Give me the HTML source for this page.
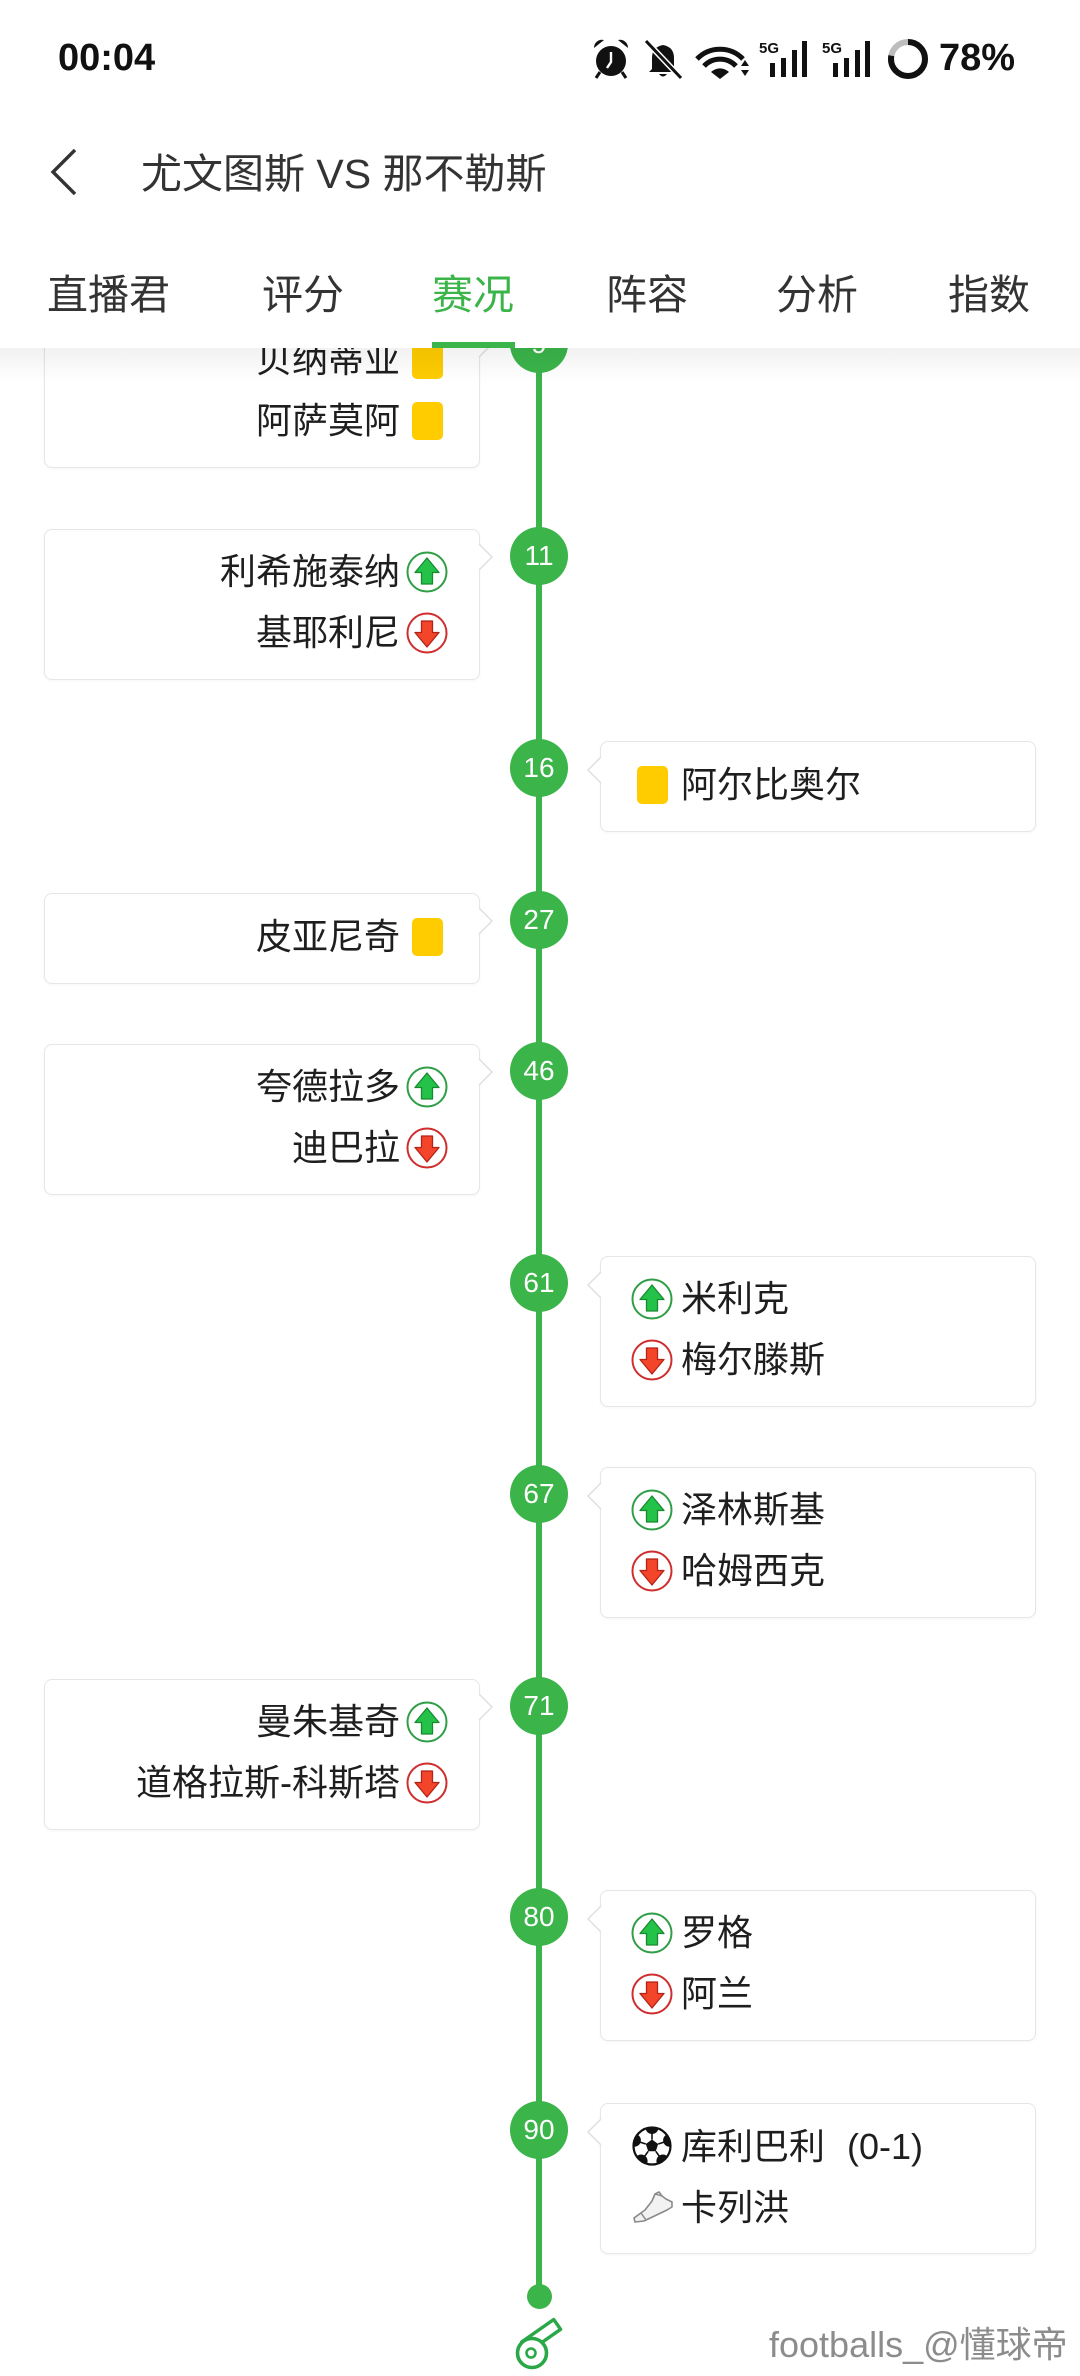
<!DOCTYPE html>
<html><head><meta charset="utf-8"><style>
*{box-sizing:border-box;margin:0;padding:0}
html,body{width:1080px;height:2376px;overflow:hidden;background:#fff}
body{position:relative;font-family:"Liberation Sans","Noto Sans CJK SC",sans-serif;color:#222}
.a{position:absolute}
.card{position:absolute;background:#fff;border:1.5px solid #e6e6e6;border-radius:8px;box-shadow:0 1px 3px rgba(0,0,0,.04)}
.L{left:44px;width:436px}
.R{left:600px;width:436px}
.h2{height:151px}.h1{height:91px}
.num{position:absolute;left:510px;width:58px;height:58px;border-radius:50%;background:#3bb44a;color:#fff;font-size:28px;line-height:58px;text-align:center;z-index:3}
.tl{position:absolute;left:44px;width:356px;text-align:right;height:50px;line-height:50px;font-size:36px;color:#1e1e1e;white-space:nowrap;z-index:2}
.tr{position:absolute;left:681px;height:50px;line-height:50px;font-size:36px;color:#1e1e1e;white-space:nowrap;z-index:2}
.yc{position:absolute;width:31px;height:38px;border-radius:5px;background:#ffcc00;z-index:2}
.ic{position:absolute;width:42px;height:42px;z-index:2}
.cl{position:absolute;left:478px;width:16px;height:28px;z-index:2}
.cr{position:absolute;left:586px;width:16px;height:28px;z-index:2}
.tab{position:absolute;top:270px;height:50px;line-height:50px;font-size:41px;color:#333;white-space:nowrap}
</style></head><body>

<!-- timeline line -->
<div class="a" style="left:536px;top:340px;width:6px;height:1957px;background:#3bb44a"></div>
<div class="a" style="left:527px;top:2284px;width:25px;height:25px;border-radius:50%;background:#3bb44a"></div>

<!-- whistle -->
<svg class="a" style="left:500px;top:2310px" width="80" height="66" viewBox="0 0 80 66">
 <g transform="translate(32,43) rotate(-35)">
  <rect x="-2" y="-15" width="39" height="12" fill="#fff" stroke="#2aa847" stroke-width="3.4" stroke-linejoin="round"/>
 </g>
 <circle cx="32" cy="43" r="14.5" fill="#fff" stroke="#2aa847" stroke-width="3.6"/>
 <circle cx="31" cy="43" r="4.5" fill="#fff" stroke="#2aa847" stroke-width="2.6"/>
</svg>

<!-- watermark -->
<div class="a" style="left:769px;top:2320px;height:50px;line-height:50px;font-size:36px;color:#8c8c8c;white-space:nowrap">footballs_@懂球帝</div>

<!-- E1 9 -->
<div class="card L h2" style="top:317px"></div>
<svg class="cl" style="top:330px" viewBox="0 0 16 28"><polygon points="0,0 14,14 0,28" fill="#fff"/><polyline points="1,1 14,14 1,27" fill="none" stroke="#e0e0e0" stroke-width="1.5"/></svg>
<div class="num" style="top:315px">9</div>
<div class="tl" style="top:335px">贝纳蒂业</div><div class="yc" style="left:412px;top:341px"></div>
<div class="tl" style="top:396px">阿萨莫阿</div><div class="yc" style="left:412px;top:402px"></div>

<!-- E2 11 -->
<div class="card L h2" style="top:529px"></div>
<svg class="cl" style="top:543px" viewBox="0 0 16 28"><polygon points="0,0 14,14 0,28" fill="#fff"/><polyline points="1,1 14,14 1,27" fill="none" stroke="#e0e0e0" stroke-width="1.5"/></svg>
<div class="num" style="top:527px">11</div>
<div class="tl" style="top:547px">利希施泰纳</div>
<svg class="ic" style="left:406px;top:551px" viewBox="0 0 42 42"><circle cx="21" cy="21" r="19.5" fill="#fff" stroke="#2f9e46" stroke-width="2"/><path d="M21 7 L33 21.5 L26.5 21.5 L26.5 33 L15.5 33 L15.5 21.5 L9 21.5 Z" fill="#25c24a" stroke="#178a30" stroke-width="1.3" stroke-linejoin="round"/></svg>
<div class="tl" style="top:608px">基耶利尼</div>
<svg class="ic" style="left:406px;top:612px" viewBox="0 0 42 42"><circle cx="21" cy="21" r="19.5" fill="#fff" stroke="#cf2e2e" stroke-width="2"/><path d="M21 35 L33 20.5 L26.5 20.5 L26.5 9 L15.5 9 L15.5 20.5 L9 20.5 Z" fill="#f3452a" stroke="#b52218" stroke-width="1.3" stroke-linejoin="round"/></svg>

<!-- E3 16 -->
<div class="card R h1" style="top:741px"></div>
<svg class="cr" style="top:756px" viewBox="0 0 16 28"><polygon points="16,0 2,14 16,28" fill="#fff"/><polyline points="15,1 2,14 15,27" fill="none" stroke="#e0e0e0" stroke-width="1.5"/></svg>
<div class="num" style="top:739px">16</div>
<div class="yc" style="left:637px;top:766px"></div><div class="tr" style="top:760px">阿尔比奥尔</div>

<!-- E4 27 -->
<div class="card L h1" style="top:893px"></div>
<svg class="cl" style="top:907px" viewBox="0 0 16 28"><polygon points="0,0 14,14 0,28" fill="#fff"/><polyline points="1,1 14,14 1,27" fill="none" stroke="#e0e0e0" stroke-width="1.5"/></svg>
<div class="num" style="top:891px">27</div>
<div class="tl" style="top:912px">皮亚尼奇</div><div class="yc" style="left:412px;top:918px"></div>

<!-- E5 46 -->
<div class="card L h2" style="top:1044px"></div>
<svg class="cl" style="top:1058px" viewBox="0 0 16 28"><polygon points="0,0 14,14 0,28" fill="#fff"/><polyline points="1,1 14,14 1,27" fill="none" stroke="#e0e0e0" stroke-width="1.5"/></svg>
<div class="num" style="top:1042px">46</div>
<div class="tl" style="top:1062px">夸德拉多</div>
<svg class="ic" style="left:406px;top:1066px" viewBox="0 0 42 42"><circle cx="21" cy="21" r="19.5" fill="#fff" stroke="#2f9e46" stroke-width="2"/><path d="M21 7 L33 21.5 L26.5 21.5 L26.5 33 L15.5 33 L15.5 21.5 L9 21.5 Z" fill="#25c24a" stroke="#178a30" stroke-width="1.3" stroke-linejoin="round"/></svg>
<div class="tl" style="top:1123px">迪巴拉</div>
<svg class="ic" style="left:406px;top:1127px" viewBox="0 0 42 42"><circle cx="21" cy="21" r="19.5" fill="#fff" stroke="#cf2e2e" stroke-width="2"/><path d="M21 35 L33 20.5 L26.5 20.5 L26.5 9 L15.5 9 L15.5 20.5 L9 20.5 Z" fill="#f3452a" stroke="#b52218" stroke-width="1.3" stroke-linejoin="round"/></svg>

<!-- E6 61 -->
<div class="card R h2" style="top:1256px"></div>
<svg class="cr" style="top:1271px" viewBox="0 0 16 28"><polygon points="16,0 2,14 16,28" fill="#fff"/><polyline points="15,1 2,14 15,27" fill="none" stroke="#e0e0e0" stroke-width="1.5"/></svg>
<div class="num" style="top:1254px">61</div>
<svg class="ic" style="left:631px;top:1278px" viewBox="0 0 42 42"><circle cx="21" cy="21" r="19.5" fill="#fff" stroke="#2f9e46" stroke-width="2"/><path d="M21 7 L33 21.5 L26.5 21.5 L26.5 33 L15.5 33 L15.5 21.5 L9 21.5 Z" fill="#25c24a" stroke="#178a30" stroke-width="1.3" stroke-linejoin="round"/></svg>
<div class="tr" style="top:1274px">米利克</div>
<svg class="ic" style="left:631px;top:1339px" viewBox="0 0 42 42"><circle cx="21" cy="21" r="19.5" fill="#fff" stroke="#cf2e2e" stroke-width="2"/><path d="M21 35 L33 20.5 L26.5 20.5 L26.5 9 L15.5 9 L15.5 20.5 L9 20.5 Z" fill="#f3452a" stroke="#b52218" stroke-width="1.3" stroke-linejoin="round"/></svg>
<div class="tr" style="top:1335px">梅尔滕斯</div>

<!-- E7 67 -->
<div class="card R h2" style="top:1467px"></div>
<svg class="cr" style="top:1482px" viewBox="0 0 16 28"><polygon points="16,0 2,14 16,28" fill="#fff"/><polyline points="15,1 2,14 15,27" fill="none" stroke="#e0e0e0" stroke-width="1.5"/></svg>
<div class="num" style="top:1465px">67</div>
<svg class="ic" style="left:631px;top:1489px" viewBox="0 0 42 42"><circle cx="21" cy="21" r="19.5" fill="#fff" stroke="#2f9e46" stroke-width="2"/><path d="M21 7 L33 21.5 L26.5 21.5 L26.5 33 L15.5 33 L15.5 21.5 L9 21.5 Z" fill="#25c24a" stroke="#178a30" stroke-width="1.3" stroke-linejoin="round"/></svg>
<div class="tr" style="top:1485px">泽林斯基</div>
<svg class="ic" style="left:631px;top:1550px" viewBox="0 0 42 42"><circle cx="21" cy="21" r="19.5" fill="#fff" stroke="#cf2e2e" stroke-width="2"/><path d="M21 35 L33 20.5 L26.5 20.5 L26.5 9 L15.5 9 L15.5 20.5 L9 20.5 Z" fill="#f3452a" stroke="#b52218" stroke-width="1.3" stroke-linejoin="round"/></svg>
<div class="tr" style="top:1546px">哈姆西克</div>

<!-- E8 71 -->
<div class="card L h2" style="top:1679px"></div>
<svg class="cl" style="top:1693px" viewBox="0 0 16 28"><polygon points="0,0 14,14 0,28" fill="#fff"/><polyline points="1,1 14,14 1,27" fill="none" stroke="#e0e0e0" stroke-width="1.5"/></svg>
<div class="num" style="top:1677px">71</div>
<div class="tl" style="top:1697px">曼朱基奇</div>
<svg class="ic" style="left:406px;top:1701px" viewBox="0 0 42 42"><circle cx="21" cy="21" r="19.5" fill="#fff" stroke="#2f9e46" stroke-width="2"/><path d="M21 7 L33 21.5 L26.5 21.5 L26.5 33 L15.5 33 L15.5 21.5 L9 21.5 Z" fill="#25c24a" stroke="#178a30" stroke-width="1.3" stroke-linejoin="round"/></svg>
<div class="tl" style="top:1758px">道格拉斯-科斯塔</div>
<svg class="ic" style="left:406px;top:1762px" viewBox="0 0 42 42"><circle cx="21" cy="21" r="19.5" fill="#fff" stroke="#cf2e2e" stroke-width="2"/><path d="M21 35 L33 20.5 L26.5 20.5 L26.5 9 L15.5 9 L15.5 20.5 L9 20.5 Z" fill="#f3452a" stroke="#b52218" stroke-width="1.3" stroke-linejoin="round"/></svg>

<!-- E9 80 -->
<div class="card R h2" style="top:1890px"></div>
<svg class="cr" style="top:1905px" viewBox="0 0 16 28"><polygon points="16,0 2,14 16,28" fill="#fff"/><polyline points="15,1 2,14 15,27" fill="none" stroke="#e0e0e0" stroke-width="1.5"/></svg>
<div class="num" style="top:1888px">80</div>
<svg class="ic" style="left:631px;top:1912px" viewBox="0 0 42 42"><circle cx="21" cy="21" r="19.5" fill="#fff" stroke="#2f9e46" stroke-width="2"/><path d="M21 7 L33 21.5 L26.5 21.5 L26.5 33 L15.5 33 L15.5 21.5 L9 21.5 Z" fill="#25c24a" stroke="#178a30" stroke-width="1.3" stroke-linejoin="round"/></svg>
<div class="tr" style="top:1908px">罗格</div>
<svg class="ic" style="left:631px;top:1973px" viewBox="0 0 42 42"><circle cx="21" cy="21" r="19.5" fill="#fff" stroke="#cf2e2e" stroke-width="2"/><path d="M21 35 L33 20.5 L26.5 20.5 L26.5 9 L15.5 9 L15.5 20.5 L9 20.5 Z" fill="#f3452a" stroke="#b52218" stroke-width="1.3" stroke-linejoin="round"/></svg>
<div class="tr" style="top:1969px">阿兰</div>

<!-- E10 90 -->
<div class="card R h2" style="top:2103px"></div>
<svg class="cr" style="top:2118px" viewBox="0 0 16 28"><polygon points="16,0 2,14 16,28" fill="#fff"/><polyline points="15,1 2,14 15,27" fill="none" stroke="#e0e0e0" stroke-width="1.5"/></svg>
<div class="num" style="top:2101px">90</div>
<svg class="a" style="left:632px;top:2126px;z-index:2" width="40" height="40" viewBox="0 0 40 40">
 <defs><clipPath id="bc"><circle cx="20" cy="20" r="18"/></clipPath></defs>
 <circle cx="20" cy="20" r="18.5" fill="#fff"/>
 <g clip-path="url(#bc)" fill="#111">
  <polygon points="20,13.5 26.2,18 23.8,25.3 16.2,25.3 13.8,18"/>
  <circle cx="20" cy="1.5" r="6.5"/>
  <circle cx="37.6" cy="14.3" r="6.5"/>
  <circle cx="30.9" cy="35" r="6.5"/>
  <circle cx="9.1" cy="35" r="6.5"/>
  <circle cx="2.4" cy="14.3" r="6.5"/>
 </g>
 <g stroke="#111" stroke-width="1.6">
  <line x1="20" y1="13.5" x2="20" y2="7"/><line x1="26.2" y1="18" x2="32.5" y2="16"/>
  <line x1="23.8" y1="25.3" x2="27.5" y2="30.5"/><line x1="16.2" y1="25.3" x2="12.5" y2="30.5"/>
  <line x1="13.8" y1="18" x2="7.5" y2="16"/>
 </g>
 <circle cx="20" cy="20" r="18.5" fill="none" stroke="#111" stroke-width="2.2"/>
</svg>
<div class="tr" style="top:2122px">库利巴利<span style="margin-left:22px">(0-1)</span></div>
<svg class="a" style="left:632px;top:2188px;z-index:2" width="42" height="38" viewBox="0 0 42 38">
 <path d="M3 34 L2 30 L13 22 L20 13 L23 6 L27 4 L30 8 L34 11 L40 14 L40 19 L35 22 L12 33 Z" fill="#f2f2f2" stroke="#8a8a8a" stroke-width="1.6" stroke-linejoin="round"/>
 <path d="M9 25 L14 32" stroke="#8a8a8a" stroke-width="1.5"/>
 <path d="M23 6 L30 8" stroke="#8a8a8a" stroke-width="1.3"/>
</svg>
<div class="tr" style="top:2183px">卡列洪</div>

<!-- header -->
<div class="a" style="left:0;top:0;width:1080px;height:348px;background:#fff;z-index:10"></div>
<div class="a" style="left:0;top:348px;width:1080px;height:34px;background:linear-gradient(rgba(0,0,0,0.055),rgba(0,0,0,0));z-index:10"></div>

<div class="a" style="left:58px;top:33px;height:50px;line-height:50px;font-size:38px;font-weight:bold;color:#111;z-index:11">00:04</div>
<div class="a" style="left:939px;top:33px;height:50px;line-height:50px;font-size:38px;font-weight:bold;color:#111;z-index:11">78%</div>

<svg class="a" style="left:0;top:0;z-index:11" width="1080" height="210" viewBox="0 0 1080 210">
 <!-- alarm -->
 <g fill="#111">
  <circle cx="611" cy="61" r="15"/>
  <path d="M594 48 A8 8 0 0 1 604 40 Z"/>
  <path d="M628 48 A8 8 0 0 0 618 40 Z"/>
  <path d="M600 72 L596 78" stroke="#111" stroke-width="3"/>
  <path d="M622 72 L626 78" stroke="#111" stroke-width="3"/>
 </g>
 <path d="M611 52 L611 62 L607 68" fill="none" stroke="#fff" stroke-width="2.4"/>
 <!-- bell crossed -->
 <path d="M652 69 L652 58 Q652 47 663 45 Q674 47 674 58 L674 69 L677 72 L649 72 Z" fill="#111"/>
 <path d="M659 74 Q663 79 667 74 Z" fill="#111"/>
 <line x1="646" y1="41" x2="681" y2="78" stroke="#fff" stroke-width="6"/>
 <line x1="646" y1="41" x2="681" y2="78" stroke="#111" stroke-width="3"/>
 <!-- wifi -->
 <g fill="none" stroke="#111" stroke-width="5" stroke-linecap="butt">
  <path d="M697 59 A32 32 0 0 1 743 59"/>
  <path d="M704 66 A22 22 0 0 1 736 66"/>
 </g>
 <path d="M711 72 A13 13 0 0 1 729 72 L720 79 Z" fill="#111"/>
 <path d="M741 66 L745 60 L749 66 Z" fill="#111"/>
 <path d="M741 70 L745 76 L749 70 Z" fill="#111"/>
 <!-- signal 1 -->
 <text x="759" y="53" font-family="Liberation Sans" font-weight="bold" font-size="15" fill="#111">5G</text>
 <rect x="770" y="63" width="5" height="14" fill="#111"/>
 <rect x="781" y="58" width="5" height="19" fill="#111"/>
 <rect x="792" y="50" width="5" height="27" fill="#111"/>
 <rect x="802" y="41" width="5" height="36" fill="#111"/>
 <!-- signal 2 -->
 <text x="822" y="53" font-family="Liberation Sans" font-weight="bold" font-size="15" fill="#111">5G</text>
 <rect x="833" y="63" width="5" height="14" fill="#111"/>
 <rect x="844" y="58" width="5" height="19" fill="#111"/>
 <rect x="855" y="50" width="5" height="27" fill="#111"/>
 <rect x="865" y="41" width="5" height="36" fill="#111"/>
 <!-- battery ring -->
 <circle cx="908" cy="59" r="17" fill="none" stroke="#bdbdbd" stroke-width="6"/>
 <circle cx="908" cy="59" r="17" fill="none" stroke="#111" stroke-width="6" stroke-dasharray="83.3 120" transform="rotate(-90 908 59)"/>
 <!-- back chevron -->
 <polyline points="75,150 53,172 75,194" fill="none" stroke="#333" stroke-width="3.4" stroke-linejoin="miter"/>
</svg>

<div class="a" style="left:141px;top:149px;height:50px;line-height:50px;font-size:41px;color:#333;white-space:nowrap;z-index:11">尤文图斯 VS 那不勒斯</div>

<div class="tab" style="left:47px;z-index:11">直播君</div>
<div class="tab" style="left:262px;z-index:11">评分</div>
<div class="tab" style="left:432px;z-index:11;color:#3bb44a">赛况</div>
<div class="tab" style="left:606px;z-index:11">阵容</div>
<div class="tab" style="left:776px;z-index:11">分析</div>
<div class="tab" style="left:948px;z-index:11">指数</div>
<div class="a" style="left:432px;top:342px;width:83px;height:6px;background:#3bb44a;z-index:11"></div>

</body></html>
